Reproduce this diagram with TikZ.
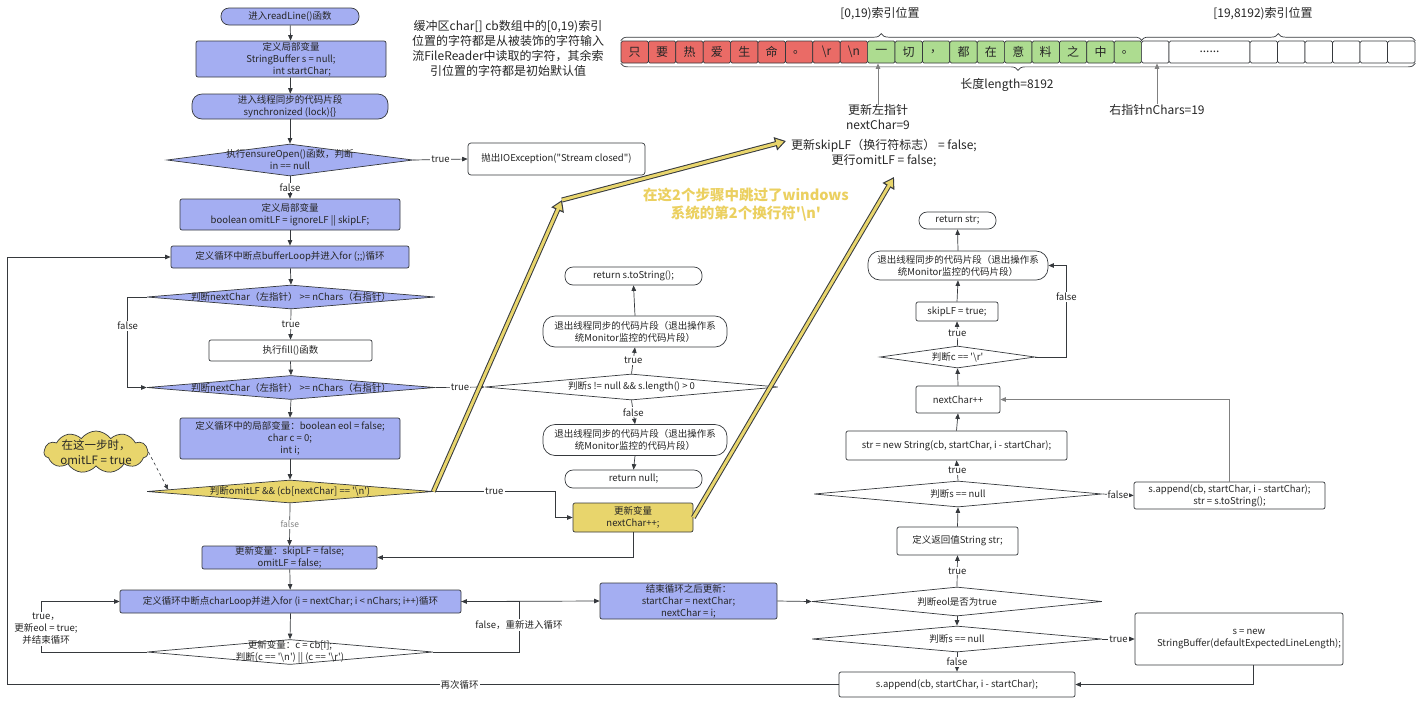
\documentclass[tikz,border=0pt]{standalone}
\usepackage{fontspec}
\newfontfamily\cjk{Noto Sans CJK SC}
\usetikzlibrary{shapes.geometric,shapes.symbols,arrows.meta,calc,decorations.pathreplacing}
\definecolor{bd}{HTML}{36393D}
\definecolor{blu}{HTML}{A4AEF2}
\definecolor{yel}{HTML}{E8D56C}
\definecolor{cred}{HTML}{EA6B66}
\definecolor{cgrn}{HTML}{ADDC90}
\definecolor{ytxt}{HTML}{EBD060}
\newcommand\fsm{\cjk\fontsize{9.5}{12}\selectfont}
\newcommand\fsl{\cjk\fontsize{12}{15}\selectfont}
\newcommand\fss{\cjk\fontsize{8.5}{10}\selectfont}
\newcommand\bs{\textbackslash}
\begin{document}
\begin{tikzpicture}[x=1pt,y=-1pt,
 base/.style={draw=bd, line width=0.7pt, align=center, inner sep=0pt, font=\fsm, text=black!85},
 bbox/.style={base, fill=blu, rounded corners=2pt},
 wbox/.style={base, fill=white, rounded corners=2pt},
 pill/.style={base, fill=white, rounded corners=8pt},
 dia/.style={draw=bd, line width=0.7pt, diamond, inner sep=0pt},
 txt/.style={align=center, inner sep=0pt, font=\fsm, text=black!85},
 big/.style={align=center, inner sep=0pt, font=\fsl, text=black!85},
 arr/.style={draw=bd, line width=0.7pt, -{Triangle[length=5.5pt,width=4.5pt]}},
 garr/.style={draw=gray, line width=0.9pt, -{Triangle[length=5.5pt,width=4.5pt]}},
 lab/.style={fill=white, inner sep=1pt, align=center, font=\fsm, text=black!85},
 cellr/.style={base, fill=cred, rounded corners=1.5pt, minimum width=27.4pt, minimum height=22pt, font=\fsl},
 cellg/.style={cellr, fill=cgrn},
 cellw/.style={cellr, fill=white},
 brc/.style={draw=bd, line width=0.7pt, decorate, decoration={brace, amplitude=7pt}},
 yout/.style={line width=5pt, draw=bd, -{Triangle[length=11pt,width=13pt]}},
 yin/.style={line width=3pt, draw=yel, shorten >=2.2pt, -{Triangle[length=7.5pt,width=9pt]}},
]
\fill[white] (0,0) rectangle (1420,705);
\useasboundingbox (0,0) rectangle (1420,705);

% ---------- top annotation ----------
\node[big] (note) at (508,48.5) {缓冲区char[] cb数组中的[0,19)索引\\位置的字符都是从被装饰的字符输入\\流FileReader中读取的字符，其余索\\引位置的字符都是初始默认值};

\foreach \cc [count=\k from 0] in {只,要,热,爱,生,命,。,\bs r,\bs n}
  \node[cellr] (c\k) at ({621+27.4*(\k+0.5)},52) {\cc};
\foreach \cc [count=\k from 9] in {一,切,，,都,在,意,料,之,中,。}
  \node[cellg] (c\k) at ({621+27.4*(\k+0.5)},52) {\cc};
\node[cellw] (c19) at ({621+27.4*19.5},52) {};
\node[cellw, minimum width=81pt] (cw) at (1209.5,52) {......};
\foreach \k in {20,...,25}
  \node[cellw, minimum width=27.5pt] (c\k) at ({1250+27.5*(\k-20+0.5)},52) {};

\draw[brc] (c0.north west) -- (c18.north east);
\draw[brc] (c19.north west) -- (c25.north east);
\draw[brc] (c25.south east) -- (c0.south west);
\node[big] (b1) at (880,14) {[0,19)索引位置};
\node[big] (b2) at (1263,14) {[19,8192)索引位置};
\node[big] (b3) at (1007,85) {长度length=8192};

\node[big] (ptrL) at (878,117.5) {更新左指针\\nextChar=9};
\node[big] (ptrR) at (1157,110) {右指针nChars=19};
\draw[garr] (ptrL.north) -- (ptrL.north |- c9.south);
\draw[garr] (ptrR.north) -- (ptrR.north |- c19.south);

\node[big] (skipT) at (884,153) {更新skipLF（换行符标志） = false;\\更行omitLF = false;};
\node[align=center, inner sep=0pt, text=ytxt, font=\cjk\bfseries\fontsize{14.5}{18}\selectfont] (ynote) at (746,205) {在这2个步骤中跳过了windows\\系统的第2个换行符'\bs n'};

% ---------- main column ----------
\node[pill, fill=blu, minimum width=138pt, minimum height=17pt] (start) at (290,16.5) {进入readLine()函数};
\node[bbox, minimum width=190pt, minimum height=36pt] (def1) at (291,59) {定义局部变量\\StringBuffer s = null;\\\hspace*{22pt}int startChar;};
\node[pill, fill=blu, rounded corners=10pt, minimum width=196pt, minimum height=25pt] (sync) at (290,106.5) {进入线程同步的代码片段\\synchronized (lock)\{\}};
\node[dia, fill=blu, minimum width=246pt, minimum height=32pt] (dE) at (290,160) {};
\node[txt] (dEt) at (dE) {执行ensureOpen()函数，判断\\in == null};
\node[wbox, rounded corners=3pt, minimum width=177pt, minimum height=32pt] (ioex) at (556.5,159) {抛出IOException("Stream closed")};
\node[bbox, minimum width=220pt, minimum height=31pt] (def2) at (290,214.5) {定义局部变量\\boolean omitLF = ignoreLF || skipLF;};
\node[bbox, minimum width=238pt, minimum height=22pt] (bufLoop) at (290,257) {定义循环中断点bufferLoop并进入for (;;)循环};
\node[dia, fill=blu, minimum width=288pt, minimum height=24pt] (d1) at (291,297) {};
\node[txt] (d1t) at (d1) {判断nextChar（左指针） >= nChars（右指针）};
\node[wbox, minimum width=163pt, minimum height=21pt] (fill) at (290.5,350.5) {执行fill()函数};
\node[dia, fill=blu, minimum width=288pt, minimum height=24pt] (d2) at (291,387.5) {};
\node[txt] (d2t) at (d2) {判断nextChar（左指针） >= nChars（右指针）};
\node[bbox, minimum width=220pt, minimum height=41pt] (def3) at (290,438.5) {定义循环中的局部变量：boolean eol = false;\\char c = 0;\\int i;};
\node[dia, fill=yel, minimum width=286pt, minimum height=23pt] (dY) at (290,491.5) {};
\node[txt] (dYt) at (dY) {判断omitLF \&\& (cb[nextChar] == '\bs n')};
\node[cloud, cloud puffs=11, cloud puff arc=110, cloud ignores aspect, draw=bd, line width=0.7pt, fill=yel, minimum width=104pt, minimum height=42pt, inner sep=0pt] (cloud) at (96,452) {};
\node[align=center, inner sep=0pt, text=black!85, font=\cjk\fontsize{11.5}{15}\selectfont] (cloudt) at (cloud) {在这一步时，\\omitLF = true};
\node[bbox, minimum width=175pt, minimum height=23pt] (upd1) at (289.5,557.5) {更新变量：skipLF = false;\\omitLF = false;};
\node[bbox, minimum width=341pt, minimum height=23pt] (charLoop) at (290.5,601.5) {定义循环中断点charLoop并进入for (i = nextChar; i < nChars; i++)循环};
\node[dia, fill=white, minimum width=286pt, minimum height=25pt] (dC) at (290,652) {};
\node[txt] (dCt) at (dC) {更新变量：c = cb[i];\\判断(c == '\bs n') || (c == '\bs r')};

% ---------- middle column ----------
\node[pill, minimum width=137pt, minimum height=18pt] (retS) at (633.5,276) {return s.toString();};
\node[pill, rounded corners=12pt, minimum width=184pt, minimum height=31pt] (ex1) at (635,331.5) {退出线程同步的代码片段（退出操作系\\统Monitor监控的代码片段）};
\node[dia, fill=white, minimum width=293pt, minimum height=26pt] (dS) at (631.5,387) {};
\node[txt] (dSt) at (dS) {判断s != null \&\& s.length() > 0};
\node[pill, rounded corners=12pt, minimum width=184pt, minimum height=31pt] (ex2) at (635,440) {退出线程同步的代码片段（退出操作系\\统Monitor监控的代码片段）};
\node[pill, minimum width=137pt, minimum height=18pt] (retNull) at (633.5,479) {return null;};
\node[base, fill=yel, rounded corners=2pt, minimum width=120pt, minimum height=29pt] (yb) at (633,517.5) {更新变量\\nextChar++;};
\node[bbox, minimum width=177pt, minimum height=36pt] (endb) at (688.5,601) {结束循环之后更新：\\startChar = nextChar;\\nextChar = i;};

% ---------- right column ----------
\node[pill, minimum width=77pt, minimum height=17pt] (retStr) at (957.5,220.5) {return str;};
\node[pill, rounded corners=12pt, minimum width=180pt, minimum height=29pt] (ex3) at (958,265.5) {退出线程同步的代码片段（退出操作系\\统Monitor监控的代码片段）};
\node[wbox, minimum width=82pt, minimum height=19pt] (skip) at (957,311.5) {skipLF = true;};
\node[dia, fill=white, minimum width=155pt, minimum height=22pt] (dR) at (957.5,357) {};
\node[txt] (dRt) at (dR) {判断c == '\bs r'};
\node[wbox, minimum width=84pt, minimum height=27pt] (nc) at (958,399.5) {nextChar++};
\node[wbox, minimum width=221pt, minimum height=29pt] (strNew) at (956.5,445.5) {str = new String(cb, startChar, i - startChar);};
\node[dia, fill=white, minimum width=288pt, minimum height=26pt] (dSn1) at (958,494) {};
\node[txt] (dSn1t) at (dSn1) {判断s == null};
\node[wbox, minimum width=191pt, minimum height=27pt] (sApp1) at (1229.5,495.5) {s.append(cb, startChar, i - startChar);\\str = s.toString();};
\node[wbox, minimum width=121pt, minimum height=28pt] (strdef) at (957.5,541) {定义返回值String str;};
\node[dia, fill=white, minimum width=290pt, minimum height=29pt] (dEol) at (957,601.5) {};
\node[txt] (dEolt) at (dEol) {判断eol是否为true};
\node[dia, fill=white, minimum width=290pt, minimum height=26pt] (dSn2) at (957,639) {};
\node[txt] (dSn2t) at (dSn2) {判断s == null};
\node[wbox, minimum width=208pt, minimum height=52pt] (sNew) at (1239,639) {\hspace*{20pt}s = new\\\hspace*{20pt}StringBuffer(defaultExpectedLineLength);};
\node[wbox, minimum width=236pt, minimum height=25pt] (sApp2) at (957,684.5) {s.append(cb, startChar, i - startChar);};

% ---------- connectors: main column ----------
\draw[arr] (start) -- (def1);
\draw[arr] (def1) -- (sync);
\draw[arr] (sync) -- (dE.north);
\draw[arr] (dE.east) -- node[lab]{true} (ioex.west);
\draw[arr] (dE.south) -- node[lab]{false} (def2.north);
\draw[arr] (def2) -- (bufLoop);
\draw[arr] (bufLoop) -- (d1.north);
\draw[arr] (d1.south) -- node[lab]{true} (fill.north);
\draw[arr] (fill.south) -- (d2.north);
\draw[arr] (d1.west) -- ++(-19,0) |- node[lab,pos=0.16]{false} (d2.west);
\draw[arr] (d2.south) -- (def3.north);
\draw[arr] (d2.east) -- node[lab]{true} (dS.west);
\draw[arr] (def3) -- (dY.north);
\draw[arr] (dY.south) -- node[lab, font=\fss, text=gray]{false} (upd1.north);
\draw[arr] (dY.east) -- node[lab]{true} ++(122,0) |- (yb.west);
\draw[arr] (yb.south) |- (upd1.east);
\draw[arr] (upd1) -- (charLoop);
\draw[arr] (charLoop.south) -- (dC.north);
\draw[arr] (dC.west) -- ++(-105,0) |- (charLoop.west);
\node[lab] (tlab) at (46,629) {true，\\更新eol = true;\\并结束循环};
\draw[arr] (dC.east) -- ++(86,0) |- (charLoop.east);
\node[lab] (flab) at (519,625) {false，重新进入循环};
\draw[arr] (charLoop.east) -- (endb.west);
\draw[arr] (endb.east) -- (dEol.west);
\draw[arr] (sApp2.west) -- node[lab,pos=0.456]{再次循环} ++(-831,0) |- (bufLoop.west);

% dashed annotation
\coordinate (dYin) at ($(dY.west)!0.15!(dY.north)$);
\draw[draw=bd, line width=0.6pt, dashed, -{Triangle[length=5pt,width=4pt]}] (cloud.east) -- (dYin);

% ---------- connectors: middle column ----------
\draw[arr] (dS.north) -- node[lab]{true} (ex1.south);
\draw[arr] (ex1.north) -- (retS.south);
\draw[arr] (dS.south) -- node[lab]{false} (ex2.north);
\draw[arr] (ex2.south) -- (retNull.north);

% ---------- connectors: right column ----------
\draw[arr] (dEol.north) -- node[lab]{true} (strdef.south);
\draw[arr] (dEol.south) -- (dSn2.north);
\draw[arr] (dSn2.east) -- node[lab]{true} (sNew.west);
\draw[arr] (dSn2.south) -- node[lab]{false} (sApp2.north);
\draw[arr] ([xshift=14pt]sNew.south) |- (sApp2.east);
\draw[arr] (strdef.north) -- (dSn1.south);
\draw[arr] (dSn1.north) -- node[lab]{true} (strNew.south);
\draw[arr] (dSn1.east) -- node[lab]{false} (sApp1.west);
\draw[arr, draw=gray] (sApp1.north) |- (nc.east);
\draw[arr] (strNew.north) -- (nc.south);
\draw[arr] (nc.north) -- (dR.south);
\draw[arr] (dR.north) -- node[lab]{true} (skip.south);
\draw[arr] (dR.east) -- ++(31,0) |- node[lab,pos=0.33]{false} (ex3.east);
\draw[arr] (skip.north) -- (ex3.south);
\draw[arr] (ex3.north) -- (retStr.south);

% ---------- yellow arrows ----------
\coordinate (yc) at (562,200);
\coordinate (ye1) at (786,141);
\coordinate (ye2) at (894,177);
\draw[yout] (dY.east) -- (yc);
\draw[yin] (dY.east) -- (yc);
\draw[yout] (yc) -- (ye1);
\draw[yin] (yc) -- (ye1);
\draw[yout] (yb.east) -- (ye2);
\draw[yin] (yb.east) -- (ye2);
\end{tikzpicture}
\end{document}
